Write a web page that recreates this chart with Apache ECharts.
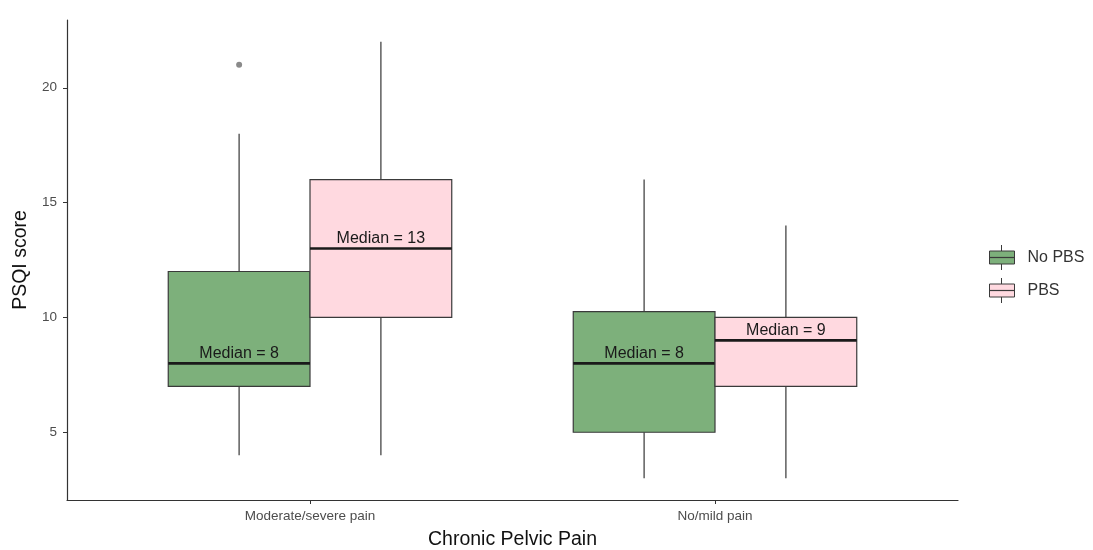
<!DOCTYPE html>
<html>
<head>
<meta charset="utf-8">
<script src="https://cdn.jsdelivr.net/npm/echarts@6/dist/echarts.min.js"></script>
<style>
  html, body { margin: 0; padding: 0; background: #fff; }
  #chart { width: 1093px; height: 550px; }
</style>
</head>
<body>
<div id="chart"></div>
<script>
// PSQI score by chronic pelvic pain group, split by PBS status
const categories = ['Moderate/severe pain', 'No/mild pain'];
const groups = ['No PBS', 'PBS'];
// five-number summaries per category: [min, Q1, median, Q3, max]
const noPbsStats = [[4, 7, 8, 12, 18], [3, 5, 8, 10.25, 16]];
const pbsStats = [[4, 10, 13, 16, 22], [3, 7, 9, 10, 14]];
// outliers: [category index, value]
const noPbsOutliers = [[0, 21]];
const pbsOutliers = [];
const yTicks = [5, 10, 15, 20];

const FONT = '"Liberation Sans", Arial, sans-serif';
const colors = { 'No PBS': '#7db07b', 'PBS': '#ffd9e0' };
const BOX_W = 0.35;            // box width in category units
const OFFSETS = [-0.175, 0.175];

function boxData(stats) {
  return stats.map((s, i) => [i + 1].concat(s));
}

function boxRenderer(offset) {
  return function (params, api) {
    const xv = api.value(0);
    const unit = api.size([1, 0])[0];
    const cx = api.coord([xv, 0])[0] + offset * unit;
    const half = BOX_W / 2 * unit;
    const y = k => api.coord([xv, api.value(k)])[1];
    const yMin = y(1), yQ1 = y(2), yMed = y(3), yQ3 = y(4), yMax = y(5);
    const fill = api.visual('color');
    return {
      type: 'group',
      children: [
        { type: 'line', shape: { x1: cx, y1: yQ3, x2: cx, y2: yMax },
          style: { stroke: '#5e5e5e', lineWidth: 1.5 } },
        { type: 'line', shape: { x1: cx, y1: yQ1, x2: cx, y2: yMin },
          style: { stroke: '#5e5e5e', lineWidth: 1.5 } },
        { type: 'rect', shape: { x: cx - half, y: yQ3, width: 2 * half, height: yQ1 - yQ3 },
          style: { fill: fill, stroke: '#3a3a3a', lineWidth: 1.2 } },
        { type: 'line', shape: { x1: cx - half, y1: yMed, x2: cx + half, y2: yMed },
          style: { stroke: '#1a1a1a', lineWidth: 2.6 } },
        { type: 'text', x: cx, y: yMed - 2,
          style: { text: 'Median = ' + api.value(3), fill: '#1a1a1a',
                   font: '16px ' + FONT,
                   align: 'center', verticalAlign: 'bottom' } }
      ]
    };
  };
}

function outlierRenderer(offset) {
  return function (params, api) {
    const xv = api.value(0);
    const unit = api.size([1, 0])[0];
    const p = api.coord([xv, api.value(1)]);
    return { type: 'circle', shape: { cx: p[0] + offset * unit, cy: p[1], r: 3 },
             style: { fill: '#8a8a8a' } };
  };
}

const chart = echarts.init(document.getElementById('chart'), null, { renderer: 'canvas' });

const series = [];
[noPbsStats, pbsStats].forEach((stats, gi) => {
  series.push({
    name: groups[gi], type: 'custom',
    renderItem: boxRenderer(OFFSETS[gi]),
    itemStyle: { color: colors[groups[gi]] },
    encode: { x: 0, y: [1, 2, 3, 4, 5] },
    data: boxData(stats), z: 2
  });
});
[noPbsOutliers, pbsOutliers].forEach((pts, gi) => {
  series.push({
    name: groups[gi] + ' outliers', type: 'custom',
    renderItem: outlierRenderer(OFFSETS[gi]),
    encode: { x: 0, y: 1 },
    data: pts.map(p => [p[0] + 1, p[1]]), z: 3
  });
});

// legend key geometry (top-left of first swatch, swatch size, row step)
const LEG_X = 989, LEG_Y = 251, KEY_W = 25, KEY_H = 13, KEY_STEP = 33;
const LEG_ROW_H = 16;

chart.setOption({
  animation: false,
  backgroundColor: '#ffffff',
  textStyle: { fontFamily: FONT },
  grid: { left: 67, right: 135, top: 20, bottom: 50, outerBoundsMode: 'none' },
  legend: {
    data: groups,
    orient: 'vertical',
    left: LEG_X, top: LEG_Y - (LEG_ROW_H - KEY_H) / 2,
    padding: 0,
    icon: 'rect',
    itemWidth: KEY_W, itemHeight: KEY_H, itemGap: KEY_STEP - LEG_ROW_H,
    itemStyle: { borderColor: '#3a3a3a', borderWidth: 1 },
    textStyle: { fontSize: 16, color: '#333', padding: [2, 0, 0, 8], lineHeight: 13 },
    selectedMode: false
  },
  xAxis: {
    type: 'value', min: 0.4, max: 2.6,
    splitLine: { show: false },
    axisLine: { show: true, lineStyle: { color: '#333', width: 1.2 } },
    axisTick: { show: true, length: 4, customValues: [1, 2], lineStyle: { color: '#333' } },
    axisLabel: { customValues: [1, 2], formatter: v => categories[Math.round(v) - 1],
                 color: '#4d4d4d', fontSize: 13.5, margin: 9 },
    name: 'Chronic Pelvic Pain', nameLocation: 'middle', nameGap: 30,
    nameTextStyle: { fontSize: 19.5, color: '#111' }
  },
  yAxis: {
    type: 'value', min: 2.05, max: 22.95,
    splitLine: { show: false },
    axisLine: { show: true, lineStyle: { color: '#333', width: 1.2 } },
    axisTick: { show: true, length: 4, customValues: yTicks, lineStyle: { color: '#333' } },
    axisLabel: { customValues: yTicks, color: '#4d4d4d', fontSize: 13.5, margin: 10 },
    name: 'PSQI score', nameLocation: 'middle', nameGap: 28,
    nameTextStyle: { fontSize: 19.5, color: '#111' }
  },
  series: series,
  // whiskers and median line drawn over each legend swatch
  graphic: groups.map((g, i) => {
    const x0 = LEG_X, y0 = LEG_Y + i * KEY_STEP, cx = x0 + KEY_W / 2;
    const ln = (x1, y1, x2, y2, w) => ({ type: 'line', z: 100,
      shape: { x1, y1, x2, y2 }, style: { stroke: '#3a3a3a', lineWidth: w } });
    return {
      type: 'group',
      children: [
        ln(cx, y0 - 6, cx, y0, 1),
        ln(cx, y0 + KEY_H, cx, y0 + KEY_H + 6, 1),
        ln(x0, y0 + KEY_H / 2, x0 + KEY_W, y0 + KEY_H / 2, 1.2)
      ]
    };
  })
});
</script>
</body>
</html>
